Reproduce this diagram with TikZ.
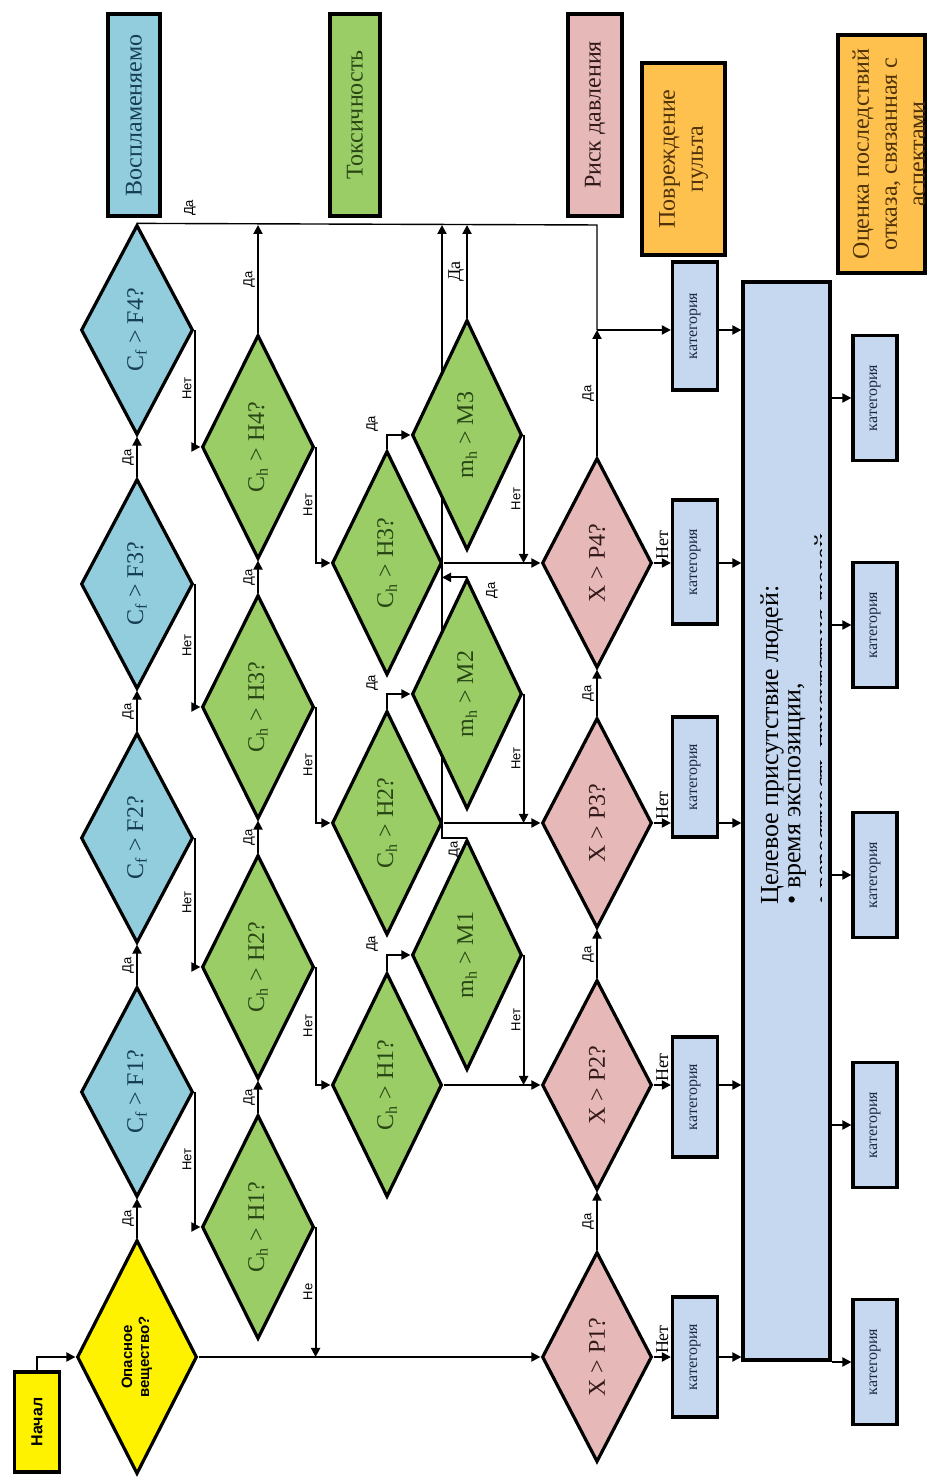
\documentclass[tikz,border=0pt]{standalone}
\usepackage{fontspec}
\setmainfont{Liberation Serif}
\setsansfont{Liberation Sans}
\usetikzlibrary{shapes.geometric,arrows.meta,backgrounds}

\definecolor{flamfill}{RGB}{146,205,221}
\definecolor{toxfill}{RGB}{155,205,103}
\definecolor{presfill}{RGB}{230,185,184}
\definecolor{catfill}{RGB}{197,216,240}
\definecolor{dmgfill}{RGB}{255,193,77}
\definecolor{flamtext}{RGB}{22,62,82}
\definecolor{toxtext}{RGB}{40,70,20}
\definecolor{prestext}{RGB}{50,25,25}
\definecolor{cattext}{RGB}{30,40,70}
\definecolor{dmgtext}{RGB}{80,50,10}

\tikzset{
  conn/.style={line width=1pt, -{Triangle[length=4.5pt,width=4.5pt]}},
  bus/.style={line width=0.7pt},
  lbl/.style={font=\sffamily\fontsize{6.5}{7}\selectfont, inner sep=1pt},
  lblser/.style={font=\fontsize{9}{10}\selectfont, inner sep=1pt},
  dec/.style={diamond, aspect=2, draw, line width=1.6pt, inner sep=0pt, font=\fontsize{12}{14}\selectfont},
  flamdec/.style={dec, fill=flamfill, text=flamtext, minimum width=105pt, minimum height=56pt},
  toxdec/.style={dec, fill=toxfill, text=toxtext, minimum width=112pt, minimum height=56pt},
  presdec/.style={dec, fill=presfill, text=prestext, minimum width=105pt, minimum height=55pt},
  catbox/.style={draw, line width=1.6pt, fill=catfill, text=cattext, inner sep=0pt,
    minimum width=60pt, minimum height=22.5pt, font=\fontsize{8}{9}\selectfont},
  resbox/.style={draw, line width=2pt, inner sep=0pt, minimum width=101pt,
    minimum height=26pt, font=\fontsize{12}{14}\selectfont},
  dmgbox/.style={draw, line width=2pt, fill=dmgfill, text=dmgtext, inner sep=0pt,
    align=center, font=\fontsize{12}{14}\selectfont},
}

\begin{document}
\begin{tikzpicture}[x=0.5pt, y=-0.5pt]
\begin{scope}[rotate=90, transform shape]
  \useasboundingbox (0,0) rectangle (1477,926);

  % start and hazard check
  \node[draw, line width=1.6pt, fill=yellow, minimum width=50pt, minimum height=22.5pt,
    inner sep=0pt, font=\sffamily\bfseries\fontsize{8}{9}\selectfont] (start) at (55,37) {Начал};
  \node[dec, fill=yellow, minimum width=117pt, minimum height=60pt, align=center,
    font=\sffamily\bfseries\fontsize{7.5}{8.5}\selectfont] (haz) at (120,137) {Опасное\\вещество?};

  % flammability
  \node[flamdec] (f1) at (385,137) {C\textsubscript{f} > F1?};
  \node[flamdec] (f2) at (639,137) {C\textsubscript{f} > F2?};
  \node[flamdec] (f3) at (893,137) {C\textsubscript{f} > F3?};
  \node[flamdec] (f4) at (1147,137) {C\textsubscript{f} > F4?};

  % toxicity, first row
  \node[toxdec] (h1) at (250,258) {C\textsubscript{h} > H1?};
  \node[toxdec] (h2) at (510,258) {C\textsubscript{h} > H2?};
  \node[toxdec] (h3) at (770,258) {C\textsubscript{h} > H3?};
  \node[toxdec] (h4) at (1030,258) {C\textsubscript{h} > H4?};

  % toxicity, second row
  \node[toxdec, minimum height=55pt] (ch1) at (392,387) {C\textsubscript{h} > H1?};
  \node[toxdec, minimum height=55pt] (ch2) at (654,387) {C\textsubscript{h} > H2?};
  \node[toxdec, minimum height=55pt] (ch3) at (914,387) {C\textsubscript{h} > H3?};

  % mass
  \node[toxdec, minimum width=115pt, minimum height=55pt] (m1) at (522,467) {m\textsubscript{h} > M1};
  \node[toxdec, minimum width=115pt, minimum height=55pt] (m2) at (783,467) {m\textsubscript{h} > M2};
  \node[toxdec, minimum width=115pt, minimum height=55pt] (m3) at (1042,467) {m\textsubscript{h} > M3};

  % pressure
  \node[presdec] (p1) at (120,597) {X > P1?};
  \node[presdec] (p2) at (392,597) {X > P2?};
  \node[presdec] (p3) at (654,597) {X > P3?};
  \node[presdec] (p4) at (914,597) {X > P4?};

  % categories
  \node[catbox] (k1) at (120,695) {категория};
  \node[catbox] (k2) at (380,695) {категория};
  \node[catbox] (k3) at (700,695) {категория};
  \node[catbox, minimum width=62pt] (k4) at (915,695) {категория};
  \node[catbox, minimum width=64pt] (k5) at (1151,695) {категория};

  \node[draw, line width=1.6pt, fill=catfill, minimum width=539pt, minimum height=43.5pt] (big) at (656,786.5) {};
  \node[anchor=west, inner sep=0pt, font=\fontsize{13}{14}\selectfont] (bt1) at (572,772) {Целевое присутствие людей:};
  \node[anchor=west, inner sep=0pt, font=\fontsize{13}{14}\selectfont] (bt2) at (572,797) {• время экспозиции,};
  \begin{scope}
    \clip (117,745) rectangle (1195,821);
    \node[anchor=west, inner sep=0pt, font=\fontsize{13}{14}\selectfont] (bt3) at (572,826) {• вероятность присутствия людей};
  \end{scope}

  \node[catbox, minimum width=62.5pt, minimum height=22pt] (r1) at (115,875) {категория};
  \node[catbox, minimum width=62.5pt, minimum height=22pt] (r2) at (352,875) {категория};
  \node[catbox, minimum width=62.5pt, minimum height=22pt] (r3) at (602,875) {категория};
  \node[catbox, minimum width=62.5pt, minimum height=22pt] (r4) at (852,875) {категория};
  \node[catbox, minimum width=62.5pt, minimum height=22pt] (r5) at (1079,875) {категория};

  % results
  \node[resbox, fill=flamfill, text=flamtext] (b1) at (1361.5,134) {Воспламеняемо};
  \node[resbox, fill=toxfill, text=toxtext, minimum height=25pt] (b2) at (1362,355) {Токсичность};
  \node[resbox, fill=presfill, text=prestext, minimum height=27pt] (b3) at (1362,595) {Риск давления};
  \node[dmgbox, minimum width=96pt, minimum height=41.5pt] (o1) at (1318,683.5) {Повреждение\\пульта};
  \node[dmgbox, minimum width=119pt, minimum height=43.5pt] (o2) at (1323,881.5) {};
  \begin{scope}
    \clip (o2.north west) rectangle (o2.south east);
    \node[anchor=north, align=center, inner sep=0pt, text=dmgtext,
      font=\fontsize{12}{14}\selectfont] (o2txt) at (1323,852) {Оценка последствий\\отказа, связанная с\\аспектами};
  \end{scope}

  \coordinate (tm) at (1252,442);
  \coordinate (tp) at (1252,597);
  \coordinate (pj) at (1147,597);
  \node[lbl] (daf4) at (1269,190) {Да};
  \node[lbl] (dam2) at (887,492) {Да};

  % start
  \draw[conn] (start.east) -| (haz.north);
  % flammability chain
  \draw[conn] (haz.east) -- node[lbl, above] {Да} (f1.west);
  \draw[conn] (f1.east) -- node[lbl, above] {Да} (f2.west);
  \draw[conn] (f2.east) -- node[lbl, above] {Да} (f3.west);
  \draw[conn] (f3.east) -- node[lbl, above] {Да} (f4.west);
  \draw[conn] (f1.south) -| node[lbl, pos=0.25, above] {Нет} (h1.north);
  \draw[conn] (f2.south) -| node[lbl, pos=0.25, above] {Нет} (h2.north);
  \draw[conn] (f3.south) -| node[lbl, pos=0.25, above] {Нет} (h3.north);
  \draw[conn] (f4.south) -| node[lbl, pos=0.25, above] {Нет} (h4.north);
  \draw[conn] (haz.south) -- (haz.south |- p1.north);
  % toxicity chain
  \draw[conn] (h1.east) -- node[lbl, above] {Да} (h2.west);
  \draw[conn] (h2.east) -- node[lbl, above] {Да} (h3.west);
  \draw[conn] (h3.east) -- node[lbl, above] {Да} (h4.west);
  \draw[conn] (h4.east) -- node[lbl, above] {Да} (h4.east -| tm);
  \draw[conn] (h1.south) -- node[lbl, above] {Не} (h1.south -| p1.north);
  \draw[conn] (h2.south) -| node[lbl, pos=0.25, above] {Нет} (ch1.north);
  \draw[conn] (h3.south) -| node[lbl, pos=0.25, above] {Нет} (ch2.north);
  \draw[conn] (h4.south) -| node[lbl, pos=0.25, above] {Нет} (ch3.north);
  \draw[conn] (ch1.east) -| node[lbl, pos=0.5, above right, yshift=3pt] {Да} (m1.north);
  \draw[conn] (ch2.east) -| node[lbl, pos=0.5, above right, yshift=3pt] {Да} (m2.north);
  \draw[conn] (ch3.east) -| node[lbl, pos=0.5, above right, yshift=3pt] {Да} (m3.north);
  \draw[conn] (ch1.south) -- (p2.north);
  \draw[conn] (ch2.south) -- (p3.north);
  \draw[conn] (ch3.south) -- (p4.north);
  \draw[conn] (m1.south) -- node[lbl, above] {Нет} (m1.south -| p2.north);
  \draw[conn] (m2.south) -- node[lbl, above] {Нет} (m2.south -| p3.north);
  \draw[conn] (m3.south) -- node[lbl, above] {Нет} (m3.south -| p4.north);
  \begin{scope}[on background layer]
    \draw[conn] (m1.east) |- node[lbl, pos=0.25, left] {Да} (tm);
  \end{scope}
  \draw[conn] (m2.east) -- (m2.east |- tm);
  \draw[conn] (m3.east) -- node[lblser, above] {Да} (m3.east -| tm);
  % pressure chain
  \draw[conn] (p1.east) -- node[lbl, above] {Да} (p2.west);
  \draw[conn] (p2.east) -- node[lbl, above] {Да} (p3.west);
  \draw[conn] (p3.east) -- node[lbl, above] {Да} (p4.west);
  \draw[conn] (p4.east) -- node[lbl, above] {Да} (pj);
  \draw[bus] (pj) -- (tp) -- (f4.east);
  \draw[conn] (pj) -- (pj |- k5.north);
  \draw[conn] (p1.south) -- node[lblser, right] {Нет} (p1.south |- k1.north);
  \draw[conn] (p2.south) -- node[lblser, right] {Нет} (p2.south |- k2.north);
  \draw[conn] (p3.south) -- node[lblser, right] {Нет} (p3.south |- k3.north);
  \draw[conn] (p4.south) -- node[lblser, right] {Нет} (p4.south |- k4.north);
  % categories to presence
  \draw[conn] (k1.south -| p1) -- (big.north -| p1);
  \draw[conn] (k2.south -| p2) -- (big.north -| p2);
  \draw[conn] (k3.south -| p3) -- (big.north -| p3);
  \draw[conn] (k4.south -| p4) -- (big.north -| p4);
  \draw[conn] (k5.south -| pj) -- (big.north -| pj);
  \draw[conn] (big.south -| r1) -- (r1.north);
  \draw[conn] (big.south -| r2) -- (r2.north);
  \draw[conn] (big.south -| r3) -- (r3.north);
  \draw[conn] (big.south -| r4) -- (r4.north);
  \draw[conn] (big.south -| r5) -- (r5.north);
\end{scope}
\end{tikzpicture}
\end{document}
